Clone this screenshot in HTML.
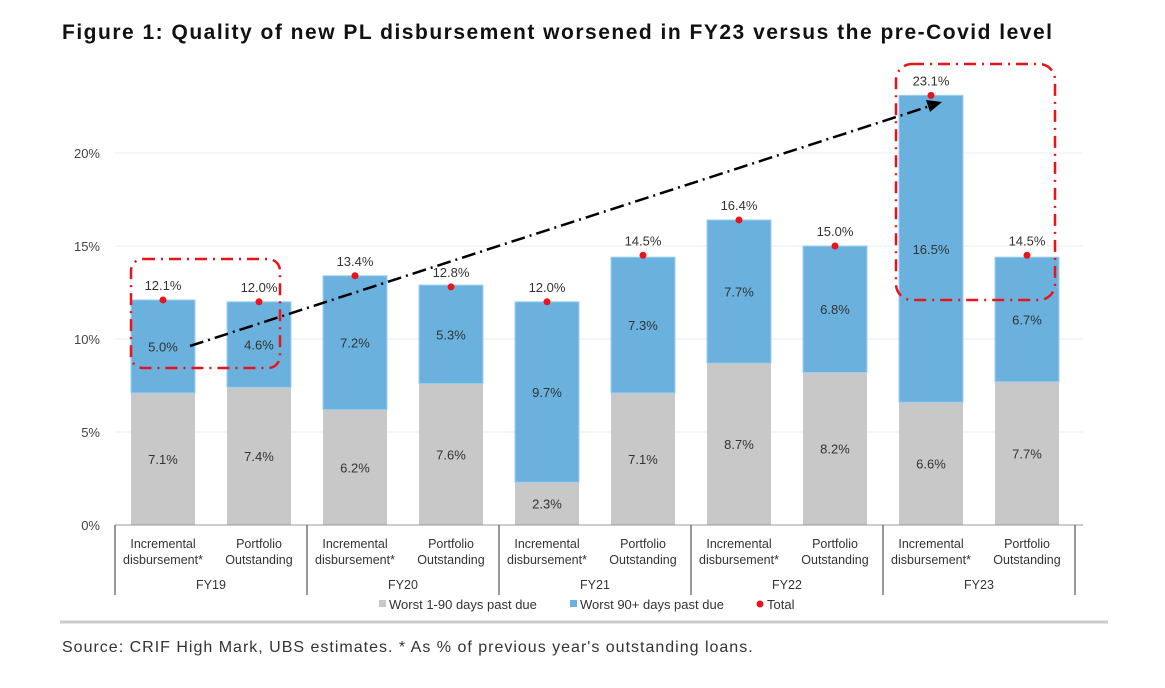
<!DOCTYPE html>
<html><head><meta charset="utf-8"><style>
body{margin:0;background:#fff;font-family:"Liberation Sans",sans-serif;}
</style></head><body>
<svg id="c" width="1165" height="683" xmlns="http://www.w3.org/2000/svg" font-family="'Liberation Sans',sans-serif">
<text x="62" y="39" font-size="21" font-weight="bold" letter-spacing="1.5" fill="#111">Figure 1: Quality of new PL disbursement worsened in FY23 versus the pre-Covid level</text>
<g id="grid"></g><g id="bars"></g><g id="xaxis"></g>
<line x1="190" y1="346" x2="930" y2="106" stroke="#000" stroke-width="2.5" stroke-dasharray="14,5,2,5"/>
<polygon points="942,102 926,100 930,112" fill="#000"/>
<rect x="131" y="259" width="149" height="109" rx="12" fill="none" stroke="#e8141b" stroke-width="2.5" stroke-dasharray="12,6,2,6"/>
<rect x="896" y="64" width="159" height="236" rx="16" fill="none" stroke="#e8141b" stroke-width="2.5" stroke-dasharray="12,6,2,6"/>
<g font-size="13" fill="#333">
<rect x="379" y="600" width="7" height="7" fill="#c8c8c8"/>
<text x="389" y="609">Worst 1-90 days past due</text>
<rect x="570" y="600" width="7" height="7" fill="#6ab2dd"/>
<text x="580" y="609">Worst 90+ days past due</text>
<circle cx="760" cy="604" r="3.5" fill="#e8141b"/>
<text x="767" y="609">Total</text>
</g>
<line x1="60" y1="622" x2="1108" y2="622" stroke="#ccc" stroke-width="3"/>
<text x="62" y="652" font-size="16" letter-spacing="1" fill="#333">Source: CRIF High Mark, UBS estimates. * As % of previous year's outstanding loans.</text>
</svg>
<script>
const groups=["FY19","FY20","FY21","FY22","FY23"];
const subCats=["Incremental disbursement*","Portfolio Outstanding"];
const early=[7.1,7.4,6.2,7.6,2.3,7.1,8.7,8.2,6.6,7.7];
const late=[5.0,4.6,7.2,5.3,9.7,7.3,7.7,6.8,16.5,6.7];
const totals=[12.1,12.0,13.4,12.8,12.0,14.5,16.4,15.0,23.1,14.5];
const yTicks=[0,5,10,15,20];
const NS="http://www.w3.org/2000/svg";
const y=v=>525-v*18.6;
const xc=i=>163+96*i;
function mk(p,t,a,txt){const e=document.createElementNS(NS,t);for(const k in a)e.setAttribute(k,a[k]);if(txt!=null)e.textContent=txt;document.getElementById(p).appendChild(e);return e;}
yTicks.forEach(t=>{
 if(t>0){const l=mk('grid','line',{x1:115,x2:1083,y1:y(t),y2:y(t),stroke:'#eee','stroke-width':1});
 
 }
 const tx=mk('grid','text',{x:100,y:y(t)+5,'font-size':13,fill:'#444','text-anchor':'end'},t+'%');
 
 
});
early.forEach((e,i)=>{
 const x=xc(i)-32,l=late[i],tot=totals[i];
 const r1=mk('bars','rect',{x:x,y:y(e),width:64,height:y(0)-y(e),fill:'#c8c8c8'});
 
 
 const r2=mk('bars','rect',{x:x,y:y(e+l),width:64,height:y(e)-y(e+l),fill:'#6ab2dd',stroke:'#9cd0ef','stroke-width':1});
 
 
 const t1=mk('bars','text',{x:xc(i),y:(y(0)+y(e))/2+5,'font-size':13,fill:'#333','text-anchor':'middle'},e.toFixed(1)+'%');
 
 
 const t2=mk('bars','text',{x:xc(i),y:(y(e)+y(e+l))/2+5,'font-size':13,fill:'#333','text-anchor':'middle'},l.toFixed(1)+'%');
 
 
 const d=mk('bars','circle',{cx:xc(i),cy:y(tot),r:3.5,fill:'#e8141b'});
 
 
 const t3=mk('bars','text',{x:xc(i),y:y(tot)-10,'font-size':13,fill:'#333','text-anchor':'middle'},tot.toFixed(1)+'%');
 
 
 const w=subCats[i%2].split(' ');
 const c1=mk('xaxis','text',{x:xc(i),y:548,'font-size':12.5,fill:'#333','text-anchor':'middle'},w[0]);
 
 
 mk('xaxis','text',{x:xc(i),y:564,'font-size':12.5,fill:'#333','text-anchor':'middle'},w[1]);
});
const ax=mk('xaxis','line',{x1:115,x2:1083,y1:525,y2:525,stroke:'#999','stroke-width':1});


groups.forEach((g,j)=>{
 const s=mk('xaxis','line',{x1:115+192*j,x2:115+192*j,y1:525,y2:595,stroke:'#333','stroke-width':1});
 
 
 const t=mk('xaxis','text',{x:211+192*j,y:589,'font-size':12.5,fill:'#333','text-anchor':'middle'},g);
 
 
});
const s=mk('xaxis','line',{x1:1075,x2:1075,y1:525,y2:595,stroke:'#333','stroke-width':1});


</script>
</body></html>
